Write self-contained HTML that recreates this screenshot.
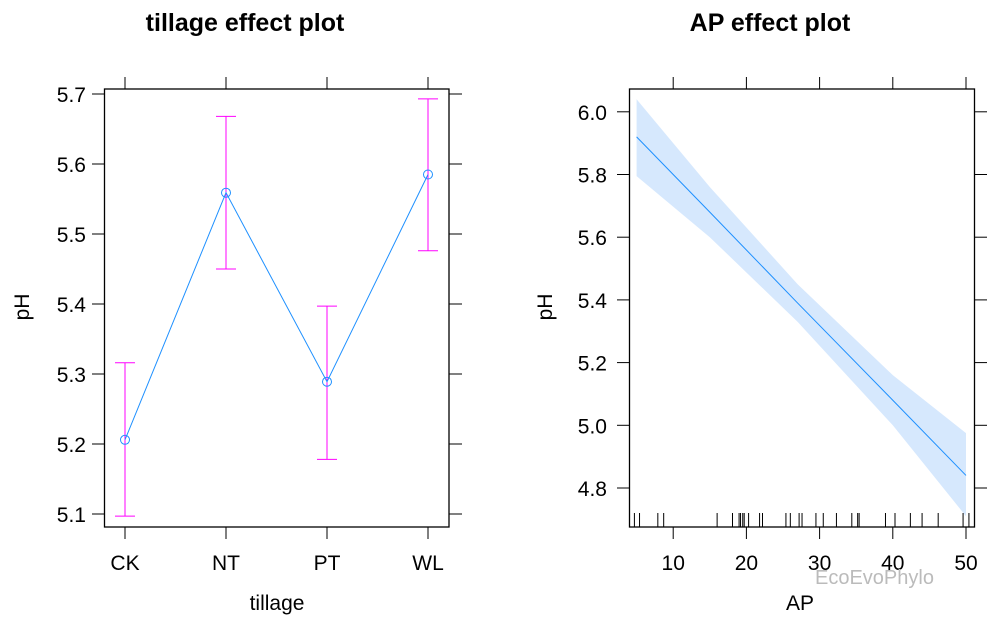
<!DOCTYPE html>
<html><head><meta charset="utf-8"><style>
body{margin:0;background:#fff}
svg{display:block;font-family:"Liberation Sans",Arial,sans-serif}
</style></head><body>
<svg width="997" height="621" viewBox="0 0 997 621" xmlns="http://www.w3.org/2000/svg">
<text x="245" y="31" font-size="25" font-weight="bold" text-anchor="middle">tillage effect plot</text>
<text x="770" y="31" font-size="25" font-weight="bold" text-anchor="middle">AP effect plot</text>
<g id="left"></g>
<g id="right"></g>
<text x="277" y="610" font-size="21" text-anchor="middle">tillage</text>
<text x="800" y="610" font-size="21" text-anchor="middle">AP</text>
<text transform="translate(29,307) rotate(-90)" font-size="21" text-anchor="middle">pH</text>
<text transform="translate(552,307) rotate(-90)" font-size="21" text-anchor="middle">pH</text>
<text x="815" y="584" font-size="20" fill="#bbb">EcoEvoPhylo</text>
</svg>
<script>
const NS="http://www.w3.org/2000/svg";
const tillCats=["CK","NT","PT","WL"];
const tillFit=[5.206,5.559,5.289,5.585];
const tillLower=[5.097,5.450,5.178,5.476];
const tillUpper=[5.316,5.668,5.397,5.693];
const tillYTicks=[5.1,5.2,5.3,5.4,5.5,5.6,5.7];
const apRug=[4.7,5.4,7.9,8.7,16.0,18.1,19.0,19.2,19.5,19.7,20.3,21.8,22.2,25.4,26.0,27.2,27.6,29.5,30.5,32.3,34.4,35.2,35.4,39.0,40.3,42.4,44.0,46.2,49.6,50.4];
const apBandX=[5,15,27,40,50];
const apFit=[5.92,5.68,5.39,5.08,4.84];
const apLower=[5.795,5.60,5.33,5.00,4.71];
const apUpper=[6.04,5.76,5.45,5.16,4.975];
const apXTicks=[10,20,30,40,50];
const apYTicks=[4.8,5.0,5.2,5.4,5.6,5.8,6.0];
function mk(p,t,a){const e=document.createElementNS(NS,t);for(const k in a)e.setAttribute(k,a[k]);p.appendChild(e);return e;}
const L=document.getElementById('left');
const lx=i=>125+i*101, ly=v=>514-(v-5.1)*700;
mk(L,'rect',{x:104.5,y:89,width:344.5,height:438,fill:'none',stroke:'#000','stroke-width':1.3});
tillYTicks.forEach(v=>{const y=ly(v);
 const t=mk(L,'line',{x1:92,x2:104.5,y1:y,y2:y,stroke:'#000'});
 
 mk(L,'line',{x1:449,x2:462,y1:y,y2:y,stroke:'#000'});
 const l=mk(L,'text',{x:86,y:y+8,'font-size':21,'text-anchor':'end'});l.textContent=v.toFixed(1);
 });
tillCats.forEach((c,i)=>{const x=lx(i);
 mk(L,'line',{x1:x,x2:x,y1:527,y2:539,stroke:'#000'});
 mk(L,'line',{x1:x,x2:x,y1:77,y2:89,stroke:'#000'});
 const l=mk(L,'text',{x:x,y:570,'font-size':21,'text-anchor':'middle'});l.textContent=c;
 
 const e=mk(L,'path',{d:`M${x},${ly(tillLower[i])}V${ly(tillUpper[i])}M${x-10},${ly(tillLower[i])}H${x+10}M${x-10},${ly(tillUpper[i])}H${x+10}`,stroke:'#ff00ff','stroke-width':1,fill:'none'});
 });
const pl=mk(L,'polyline',{points:tillFit.map((v,i)=>lx(i)+','+ly(v)).join(' '),fill:'none',stroke:'#1e90ff','stroke-width':1});

tillFit.forEach((v,i)=>{const c=mk(L,'circle',{cx:lx(i),cy:ly(v),r:4.5,fill:'none',stroke:'#1e90ff'});
 });
const R=document.getElementById('right');
const rx=a=>600+a*7.32, ry=v=>488-(v-4.8)*313.5;
const band=mk(R,'polygon',{points:apBandX.map((a,i)=>rx(a)+','+ry(apUpper[i])).concat(apBandX.map((a,i)=>rx(a)+','+ry(apLower[i])).reverse()).join(' '),fill:'#d6e8fd'});

const fl=mk(R,'polyline',{points:apBandX.map((a,i)=>rx(a)+','+ry(apFit[i])).join(' '),fill:'none',stroke:'#1e90ff','stroke-width':1});

apRug.forEach(a=>{const r=mk(R,'line',{x1:rx(a),x2:rx(a),y1:513,y2:527,stroke:'#000'});
 });
mk(R,'rect',{x:629.5,y:89,width:345,height:438,fill:'none',stroke:'#000','stroke-width':1.3});
apYTicks.forEach(v=>{const y=ry(v);
 mk(R,'line',{x1:617,x2:629.5,y1:y,y2:y,stroke:'#000'});
 mk(R,'line',{x1:974.5,x2:987,y1:y,y2:y,stroke:'#000'});
 const l=mk(R,'text',{x:607,y:y+8,'font-size':21,'text-anchor':'end'});l.textContent=v.toFixed(1);
 });
apXTicks.forEach(a=>{const x=rx(a);
 mk(R,'line',{x1:x,x2:x,y1:527,y2:539,stroke:'#000'});
 mk(R,'line',{x1:x,x2:x,y1:77,y2:89,stroke:'#000'});
 const l=mk(R,'text',{x:x,y:570,'font-size':21,'text-anchor':'middle'});l.textContent=a;
 });
</script>
</body></html>
